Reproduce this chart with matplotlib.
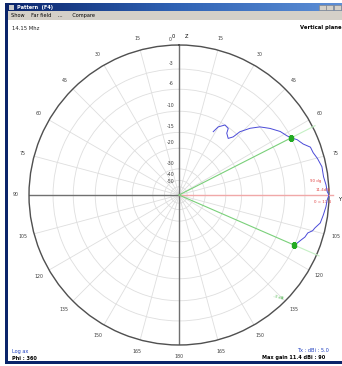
import numpy as np
import matplotlib
matplotlib.use("Agg")
import matplotlib.pyplot as plt
from matplotlib.patches import Rectangle
from matplotlib.colors import LinearSegmentedColormap

# elevation cut: angle from zenith (deg) and gain relative to maximum (dB)
theta_deg = [28.4, 29.9, 33.3, 36.5, 37.7, 41.0, 43.0, 43.9, 46.8, 49.9, 53.8,
             57.9, 61.2, 63.0, 64.9, 67.7, 70.0, 72.5, 75.2, 78.8, 82.8, 86.1,
             88.7, 90.0, 91.9, 94.6, 97.9, 101.2, 103.6, 105.0, 106.4, 108.5,
             110.0, 113.5]
gain_db = [-12.6, -11.1, -10.0, -10.2, -11.2, -11.9, -10.9, -9.2, -7.4, -6.0,
           -4.9, -3.9, -3.4, -3.0, -2.4, -1.9, -1.2, -1.1, -0.8, -0.5, -0.5,
           -0.3, -0.2, 0.0, -0.2, -0.3, -0.5, -0.7, -1.2, -1.4, -1.9, -2.1,
           -2.4, -3.0]

# -3 dB beamwidth markers and direction of max gain
beam_theta = [63.0, 113.5]
beam_db = [-3.0, -3.0]
max_theta = 90.0

ring_db = [0, -3, -6, -10, -15, -20, -30, -40, -50]
ring_labels = ["0", "-3", "-6", "-10", "-15", "-20", "-30", "-40", "-50"]
angle_ticks = list(range(0, 360, 15))


def arrl_fwd(db):
    return 0.89 ** (-np.asarray(db, dtype=float) / 2.0)


def arrl_inv(r):
    r = np.maximum(np.asarray(r, dtype=float), 1e-12)
    return -2.0 * np.log(r) / np.log(0.89)


W, H = 342, 366
fig = plt.figure(figsize=(W / 100, H / 100), dpi=100)
fig.patch.set_facecolor("white")

# window frame, title bar and menu bar in pixel coordinates
bg = fig.add_axes([0, 0, 1, 1])
bg.set_xlim(0, W)
bg.set_ylim(H, 0)
bg.axis("off")

navy = "#0a246a"
grad = np.linspace(0, 1, 256).reshape(1, -1)
cmap = LinearSegmentedColormap.from_list("title", [navy, "#2f62b4", "#5d8fd6"])
bg.imshow(grad, cmap=cmap, extent=(5, W, 11, 3), aspect="auto", zorder=1)
bg.add_patch(Rectangle((5, 11), W - 5, 9, facecolor="#d4d0c8", edgecolor="none", zorder=1))
bg.add_patch(Rectangle((5, 3), 2.5, H - 6, facecolor=navy, edgecolor="none", zorder=3))
bg.add_patch(Rectangle((5, H - 5), W - 5, 2.5, facecolor=navy, edgecolor="none", zorder=3))
bg.add_patch(Rectangle((9, 4.5), 5, 5, facecolor="#c8c8c8", edgecolor="none", zorder=2))
for bx in (319, 326, 334):
    bg.add_patch(Rectangle((bx, 4.5), 6.5, 5.5, facecolor="#d4d0c8",
                           edgecolor="#808080", lw=0.4, zorder=2))
bg.text(17, 7.2, "Pattern  (F4)", color="white", fontsize=3.6, weight="bold",
        va="center", zorder=2)
bg.text(11, 15.5, "Show    Far field    ...      Compare", color="black",
        fontsize=3.6, va="center", zorder=2)
bg.text(12, 28, "14.15 Mhz", fontsize=3.8, va="center", color="#202020")
bg.text(300, 28, "Vertical plane", fontsize=3.8, va="center", weight="bold",
        color="black", clip_on=True)
bg.text(12, 352, "Log ax", fontsize=3.6, va="center", color="#2040c0")
bg.text(12, 358, "Phi : 360", fontsize=3.6, va="center", color="black", weight="bold")
bg.text(297, 351, "Tx : dBi : 5.0", fontsize=3.6, va="center", color="#2040c0", clip_on=True)
bg.text(262, 358, "Max gain 11.4 dBi : 90", fontsize=3.6, va="center",
        color="black", weight="bold", clip_on=True)

# polar pattern
cx, cy, R = 179, 195, 150
ax = fig.add_axes([(cx - R) / W, (H - cy - R) / H, 2 * R / W, 2 * R / H],
                  projection="polar")
ax.set_facecolor("none")
ax.set_theta_zero_location("N")
ax.set_theta_direction(-1)
ax.set_rscale("function", functions=(arrl_fwd, arrl_inv))
ax.set_rlim(-200, 0)
ax.set_rgrids(ring_db, labels=[""] * len(ring_db))
ax.set_thetagrids(angle_ticks, labels=[""] * len(angle_ticks))
ax.grid(color="#dedede", lw=0.6)
ax.spines["polar"].set_color("#505050")
ax.spines["polar"].set_linewidth(1.0)

# main axes through the centre
for ang in (0, 180, 270):
    ax.plot(np.radians([ang, ang]), [-200, 0], color="#707070", lw=1.0, zorder=2)
ax.plot(np.radians([max_theta, max_theta]), [-200, 0.4], color="#f0a8a8", lw=1.0,
        zorder=3, clip_on=False)

th = np.radians(beam_theta)
for t, g in zip(th, beam_db):
    ax.plot([t, t], [-200, g], color="#7ad07a", lw=0.8, zorder=3)
    ax.plot([t, t], [g, 0.3], color="#c4f0c4", lw=0.8, zorder=3, clip_on=False)
ax.plot(th, beam_db, "s", color="#22aa22", ms=3, zorder=5)

ax.plot(np.radians(theta_deg), gain_db, color="#4a4ad8", lw=0.7, zorder=4)

for d, s in zip(ring_db, ring_labels):
    ax.annotate(s, xy=(0, d), xytext=(-6, 4), textcoords="offset points",
                fontsize=3.4, color="#404040", ha="center", va="center",
                annotation_clip=False)

label_r = 0.54
for a in angle_ticks:
    if a in (0, 90, 270):
        continue
    shown = a if a <= 180 else 360 - a
    ang = np.radians(a)
    ax.text(0.5 + label_r * np.sin(ang), 0.5 + label_r * np.cos(ang), str(shown),
            transform=ax.transAxes, fontsize=3.4, color="#404040",
            ha="center", va="center")
ax.text(0.48, 1.03, "0", transform=ax.transAxes, fontsize=3.6, ha="center", va="center")
ax.text(0.525, 1.03, "Z", transform=ax.transAxes, fontsize=3.6, ha="center", va="center")
ax.text(-0.045, 0.5, "90", transform=ax.transAxes, fontsize=3.4, color="#404040",
        ha="center", va="center")
ax.text(1.035, 0.485, "Y", transform=ax.transAxes, fontsize=3.6, ha="center", va="center")

# max gain annotation at the rim
ax.text(0.955, 0.545, "90 dg", transform=ax.transAxes, fontsize=2.8, color="#e04040",
        ha="center", va="center")
ax.text(0.98, 0.515, "11.4dBi", transform=ax.transAxes, fontsize=2.8, color="#e04040",
        ha="center", va="center")
ax.text(0.98, 0.475, "0 = 11.4", transform=ax.transAxes, fontsize=2.8, color="#e04040",
        ha="center", va="center")
ax.text(0.83, 0.16, "-3 dB", transform=ax.transAxes, fontsize=2.8, color="#40b040",
        ha="center", va="center", rotation=-15)

fig.savefig("out.png", dpi=100, facecolor="white")
